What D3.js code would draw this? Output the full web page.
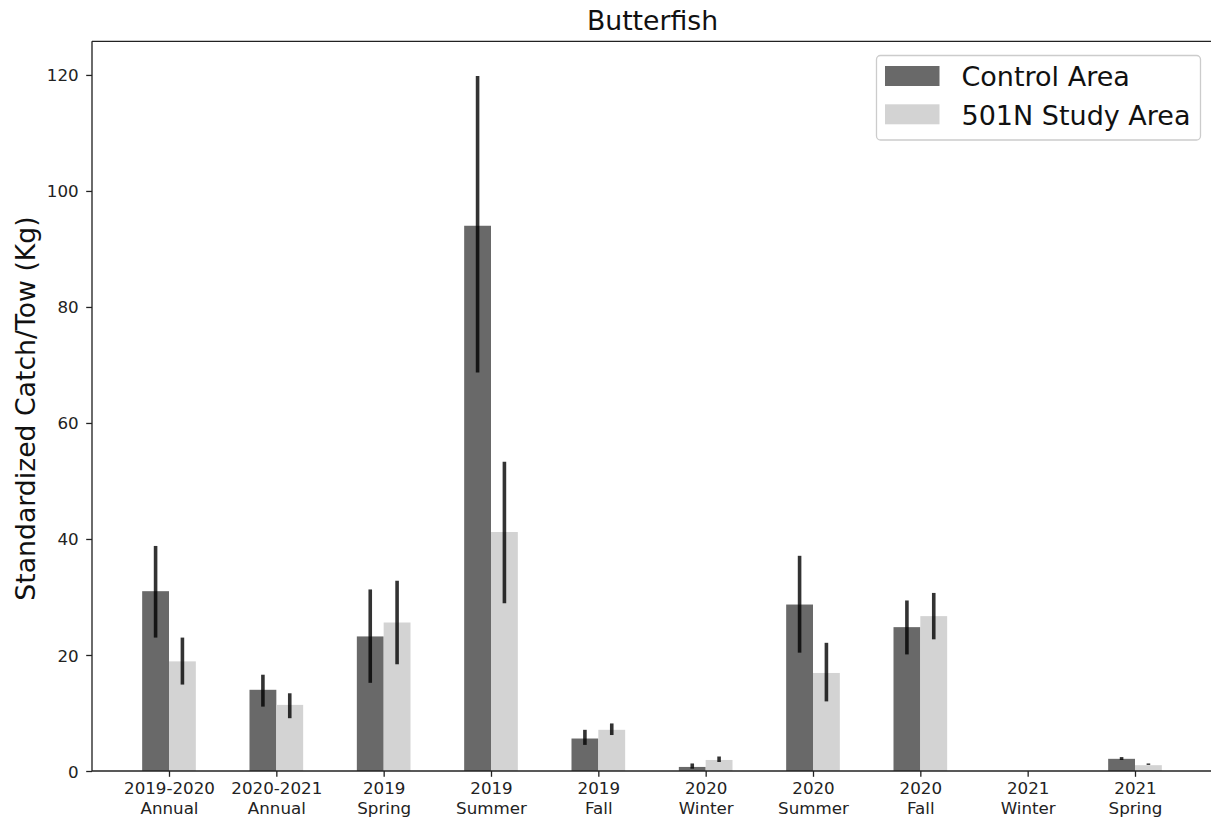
<!DOCTYPE html>
<html>
<head>
<meta charset="utf-8">
<script src="https://cdn.jsdelivr.net/npm/d3@7"></script>
<style>
  html, body { margin: 0; padding: 0; background: #fff; }
  svg { display: block; font-family: "DejaVu Sans", sans-serif; }
</style>
</head>
<body>
<svg id="chart" width="1211" height="824"></svg>
<script>
// ---- data ----
const catLine1 = ["2019-2020", "2020-2021", "2019", "2019", "2019", "2020", "2020", "2020", "2021", "2021"];
const catLine2 = ["Annual", "Annual", "Spring", "Summer", "Fall", "Winter", "Summer", "Fall", "Winter", "Spring"];
const seriesNames = ["Control Area", "501N Study Area"];
const control   = [31.0, 14.0, 23.2, 94.0, 5.6, 0.7, 28.7, 24.8, 0, 2.1];
const controlLo = [23.0, 11.1, 15.2, 68.7, 4.5, 0.4, 20.4, 20.1, 0, 1.9];
const controlHi = [38.8, 16.6, 31.3, 119.8, 7.1, 1.3, 37.1, 29.4, 0, 2.4];
const study     = [18.9, 11.4, 25.6, 41.2, 7.1, 1.9, 16.9, 26.7, 0, 1.0];
const studyLo   = [14.9, 9.1, 18.4, 28.9, 6.2, 1.55, 12.0, 22.7, 0, 1.05];
const studyHi   = [23.0, 13.4, 32.8, 53.3, 8.2, 2.5, 22.1, 30.7, 0, 1.3];
const yTicks = [0, 20, 40, 60, 80, 100, 120];
const titleText = "Butterfish";
const yLabelText = "Standardized Catch/Tow (Kg)";

// ---- layout ----
const colors = ["#696969", "#d3d3d3"];
const pL = 92, pR = 1212, pT = 41.3, pB = 771;
const svg = d3.select("#chart");

const x = d3.scaleLinear().domain([-0.7174, catLine1.length - 1 + 0.7174]).range([pL, pR]);
const y = d3.scaleLinear().domain([0, 125.8]).range([pB, pT]);
const barW = x(0.25) - x(0);

const series = [
  { name: seriesNames[0], vals: control, lo: controlLo, hi: controlHi, off: -0.125, color: colors[0] },
  { name: seriesNames[1], vals: study, lo: studyLo, hi: studyHi, off: 0.125, color: colors[1] }
];

// bars
series.forEach(s => {
  svg.append("g").selectAll("rect").data(s.vals).join("rect")
    .attr("x", (d, i) => x(i + s.off) - barW / 2)
    .attr("width", barW)
    .attr("y", d => y(d))
    .attr("height", d => y(0) - y(d))
    .attr("fill", s.color);
});
// error bars
series.forEach(s => {
  svg.append("g").selectAll("line").data(s.vals.map((v, i) => ({ i, lo: s.lo[i], hi: s.hi[i] })).filter(d => d.hi > d.lo)).join("line")
    .attr("x1", d => x(d.i + s.off)).attr("x2", d => x(d.i + s.off))
    .attr("y1", d => y(d.lo)).attr("y2", d => y(d.hi))
    .attr("stroke", "#000").attr("stroke-opacity", 0.8).attr("stroke-width", 3.6);
});

// axes
const tickLen = 5.8;
const yAxis = svg.append("g").attr("transform", `translate(${pL},0)`)
  .call(d3.axisLeft(y).tickValues(yTicks).tickSize(tickLen).tickPadding(7.5).tickFormat(d3.format("d")));
yAxis.select(".domain").remove();
yAxis.selectAll(".tick line").attr("stroke", "#222").attr("stroke-width", 1.3);
yAxis.selectAll(".tick text").attr("font-size", 16.7).attr("fill", "#222").attr("font-family", "DejaVu Sans").attr("dy", "0.36em");

const xAxis = svg.append("g").attr("transform", `translate(0,${pB})`)
  .call(d3.axisBottom(x).tickValues(d3.range(catLine1.length)).tickSize(tickLen).tickFormat(""));
xAxis.select(".domain").remove();
xAxis.selectAll(".tick line").attr("stroke", "#222").attr("stroke-width", 1.3);
xAxis.selectAll(".tick").each(function(d) {
  const t = d3.select(this).append("text").attr("fill", "#222").attr("font-size", 16.7)
    .attr("text-anchor", "middle").attr("font-family", "DejaVu Sans");
  t.append("tspan").attr("x", 0).attr("y", 23).text(catLine1[d]);
  t.append("tspan").attr("x", 0).attr("y", 43).text(catLine2[d]);
});

// spines
const sp = svg.append("g").attr("stroke", "#222").attr("stroke-width", 1.33).attr("fill", "none");
sp.append("line").attr("x1", pL).attr("x2", pL).attr("y1", pT).attr("y2", pB);
sp.append("line").attr("x1", pL).attr("x2", pR).attr("y1", pB).attr("y2", pB);
sp.append("line").attr("x1", pL).attr("x2", pR).attr("y1", pT).attr("y2", pT);
sp.append("line").attr("x1", pR).attr("x2", pR).attr("y1", pT).attr("y2", pB);

// title
svg.append("text").attr("x", (pL + 1211) / 2 + 1).attr("y", 29.5).attr("text-anchor", "middle")
  .attr("font-size", 26.7).attr("fill", "#111").text(titleText);
// y label
svg.append("text").attr("transform", `translate(34.5,${(215 + 602) / 2}) rotate(-90)`)
  .attr("text-anchor", "middle").attr("font-size", 26.7).attr("fill", "#111").text(yLabelText);

// legend
const lg = svg.append("g");
lg.append("rect").attr("x", 876.5).attr("y", 55.5).attr("width", 324).attr("height", 84.5)
  .attr("rx", 4).attr("fill", "#fff").attr("fill-opacity", 0.8).attr("stroke", "#ccc").attr("stroke-width", 1.3);
series.forEach((s, k) => {
  lg.append("rect").attr("x", 885).attr("y", 66 + k * 38.3).attr("width", 54.5).attr("height", 20).attr("fill", s.color);
  lg.append("text").attr("x", 961.5).attr("y", 86 + k * 38.5).attr("font-size", 27).attr("fill", "#111").text(s.name);
});
</script>
</body>
</html>
